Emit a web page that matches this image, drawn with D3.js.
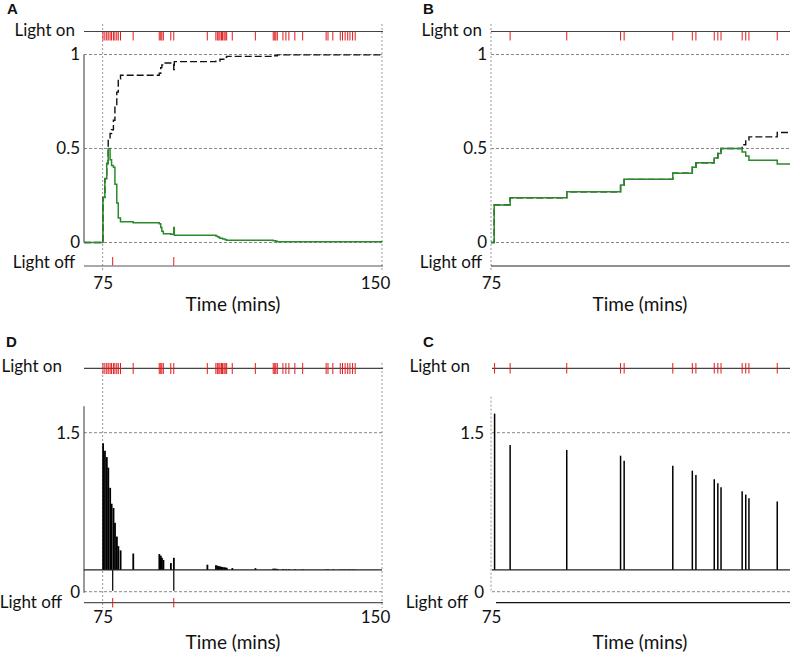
<!DOCTYPE html>
<html><head><meta charset="utf-8">
<script src="https://cdn.jsdelivr.net/npm/d3@7"></script>
<style>
body{margin:0;background:#fff}
text{font-family:Lato,"Open Sans",sans-serif;fill:#111}
.letter{font-family:"Liberation Sans",Arial,sans-serif;font-weight:bold;font-size:15px}
</style>
</head><body>
<svg id="c" width="797" height="661"></svg>
<script>
// ---------------- DATA ----------------
// light-on event times (mins), panels A and D
const lightOnAD = [75.1,75.6,76.1,76.5,77.0,77.4,77.9,78.3,78.8,79.2,79.8,83.2,
  90.2,90.6,90.9,91.3,93.3,94.1,103.1,105.4,105.8,106.2,106.5,106.9,107.2,107.6,107.9,108.3,
  109.8,116.0,120.8,121.2,121.5,121.9,123.4,124.2,125.0,126.6,128.7,
  135.0,135.5,136.8,138.8,139.4,140.1,140.8,141.4,142.1,142.8];
// light-off event times, panels A and D
const lightOffAD = [77.7, 94.1];
// panel A: green line (time, value)
const greenA_t = [70,75.1,75.6,76.1,76.5,77.0,77.4,77.9,78.3,78.8,79.2,79.8,83.2,90.2,90.6,90.9,91.3,93.3,94.1,94.25,105.4,105.8,106.2,106.5,107.2,107.9,108.3,120.8,121.5,121.9,150];
const greenA_v = [0,0.24,0.34,0.42,0.50,0.44,0.41,0.40,0.31,0.21,0.13,0.11,0.105,0.10,0.08,0.06,0.047,0.044,0.08,0.038,0.035,0.03,0.026,0.022,0.018,0.014,0.012,0.009,0.006,0.004,0.003];
// panel A: black dashed cumulative line
const cumA_t = [70,75.1,75.6,76.1,76.5,77.0,77.4,77.9,78.3,78.8,79.2,79.8,90.2,90.6,90.9,91.3,94.1,94.25,105.4,106.5,107.9,108.3,120.8,121.9,150];
const cumA_v = [0,0.24,0.34,0.42,0.55,0.58,0.60,0.65,0.72,0.80,0.87,0.89,0.90,0.93,0.945,0.955,0.92,0.962,0.965,0.975,0.985,0.99,0.993,0.998,1.0];
// panels B and C: light-on event times
const lightOnC = [75.9,79.8,94.0,107.5,108.4,120.6,125.5,126.4,131.0,131.9,132.7,138.0,138.9,139.7,146.8];
const lightOnB = [79.8,94.0,107.5,108.4,120.6,125.5,126.4,131.0,131.9,132.7,138.0,138.9,139.7,146.8];
// panel B: green and black dashed lines
const greenB_t = [75,75.8,79.8,94.0,107.5,108.4,120.6,125.5,126.4,131.0,131.9,132.7,138.0,138.9,139.7,146.8,150];
const greenB_v = [0,0.20,0.238,0.27,0.306,0.336,0.368,0.40,0.424,0.45,0.474,0.50,0.482,0.46,0.438,0.417,0.417];
const cumB_t = [75,75.8,79.8,94.0,107.5,108.4,120.6,125.5,126.4,131.0,131.9,132.7,138.0,138.9,139.7,146.8,150];
const cumB_v = [0,0.20,0.238,0.27,0.306,0.336,0.368,0.40,0.424,0.45,0.474,0.50,0.52,0.545,0.562,0.585,0.585];
// panel D: spike tops at each light-on event
const spikeD_v = [1.40,1.33,1.27,1.17,0.98,0.83,0.79,0.65,0.52,0.43,0.39,0.36,
  0.355,0.34,0.32,0.30,0.27,0.32,0.255,0.25,0.245,0.24,0.238,0.235,0.232,0.23,0.228,0.226,
  0.223,0.222,0.218,0.217,0.216,0.215,0.213,0.212,0.212,0.212,0.211,
  0.21,0.21,0.21,0.209,0.209,0.209,0.209,0.209,0.209,0.209];
const baselineD = 0.205;
// panel C: spike tops
const spikeC_v = [1.68,1.385,1.337,1.283,1.236,1.189,1.142,1.10,1.061,1.023,0.986,0.948,0.916,0.882,0.85];
const baselineC = 0.205;
// tick labels
const probTicks = [0,0.5,1];
const probLabels = ["0","0.5","1"];
const ampTicks = [0,1.5];
const ampLabels = ["0","1.5"];
const xLabelsAD = [75,150];
const xLabelsBC = [75];

// ---------------- DRAW ----------------
const svg = d3.select("#c");
const GREEN = "#2b8a2b", RED = "#e41a1c";

function hline(x0,x1,y,color,w,dash){
  const l = svg.append("line").attr("x1",x0).attr("x2",x1).attr("y1",y).attr("y2",y)
    .attr("stroke",color).attr("stroke-width",w);
  if(dash) l.attr("stroke-dasharray",dash);
}
function vline(x,y0,y1,color,w,dash){
  const l = svg.append("line").attr("x1",x).attr("x2",x).attr("y1",y0).attr("y2",y1)
    .attr("stroke",color).attr("stroke-width",w);
  if(dash) l.attr("stroke-dasharray",dash);
}
function txt(x,y,s,anchor,size,cls){
  const t = svg.append("text").attr("x",x).attr("y",y).attr("text-anchor",anchor||"start").text(s);
  if(size) t.attr("font-size",size);
  if(cls) t.attr("class",cls);
  return t;
}
function eventTicks(x,times,y0,y1){
  svg.append("g").selectAll("line").data(times).join("line")
    .attr("x1",d=>x(d)).attr("x2",d=>x(d)).attr("y1",y0).attr("y2",y1)
    .attr("stroke",RED).attr("stroke-width",1);
}
function yAxisLabels(y,ticks,labels,xr){
  const g = svg.append("g").attr("transform",`translate(${xr},0)`)
    .call(d3.axisLeft(y).tickValues(ticks).tickSize(0).tickPadding(0)
      .tickFormat((d,i)=>labels[i]));
  g.select(".domain").remove();
  g.selectAll("text").attr("font-size",17).attr("font-family","Lato,sans-serif").attr("fill","#111");
}
function xAxisLabels(x,ticks,yPos,shift){
  const g = svg.append("g").attr("transform",`translate(0,${yPos})`)
    .call(d3.axisBottom(x).tickValues(ticks).tickSize(0).tickPadding(0).tickFormat(d3.format("d")));
  g.select(".domain").remove();
  g.selectAll("text").attr("font-size",17).attr("font-family","Lato,sans-serif").attr("fill","#111")
    .attr("dx",d=>d===150?shift:0);
}
function stepLine(x,y,ts,vs,color,w,dash){
  const pts = ts.map((t,i)=>[t,vs[i]]);
  const p = svg.append("path").datum(pts)
    .attr("d",d3.line().x(d=>x(d[0])).y(d=>y(d[1])).curve(d3.curveStepAfter))
    .attr("fill","none").attr("stroke",color).attr("stroke-width",w);
  if(dash) p.attr("stroke-dasharray",dash);
}

// ===== Panel A =====
{
  const x = d3.scaleLinear().domain([70,150]).range([84,382]);
  const y = d3.scaleLinear().domain([0,1]).range([242.5,54.5]);
  txt(7,14,"A","start",null,"letter");
  probTicks.forEach(v=>hline(84,382,y(v),"#888",1,"3,2"));
  vline(x(75),24,272,"#999",1,"2,2");
  vline(x(150),24,272,"#999",1,"2,2");
  vline(84,y(1),y(0),"#555",1.2);
  hline(84,383,31.5,"#444",1.2);
  eventTicks(x,lightOnAD,32,40.5);
  hline(84,383,266,"#555",1.2);
  eventTicks(x,lightOffAD,257,265.5);
  txt(75,36,"Light on","end",17);
  txt(75,268,"Light off","end",17);
  stepLine(x,y,cumA_t,cumA_v,"#111",1.4,"7,3");
  stepLine(x,y,greenA_t,greenA_v,GREEN,1.5);
  yAxisLabels(y,probTicks,probLabels,80);
  xAxisLabels(x,xLabelsAD,277,-7);
  txt(233,311,"Time (mins)","middle",19);
}

// ===== Panel B =====
{
  const x = d3.scaleLinear().domain([75,150]).range([491,790]);
  const y = d3.scaleLinear().domain([0,1]).range([242.5,54.5]);
  txt(423,14,"B","start",null,"letter");
  probTicks.forEach(v=>hline(491,790,y(v),"#888",1,"3,2"));
  vline(491,24,272,"#999",1,"2,2");
  hline(491,790,31.5,"#444",1.2);
  eventTicks(x,lightOnB,32,40.5);
  hline(491,790,266,"#222",1.2);
  txt(482,36,"Light on","end",17);
  txt(482,268,"Light off","end",17);
  stepLine(x,y,cumB_t,cumB_v,"#111",1.4,"7,3");
  stepLine(x,y,greenB_t,greenB_v,GREEN,1.5);
  yAxisLabels(y,probTicks,probLabels,487);
  xAxisLabels(x,xLabelsBC,277,0);
  txt(640,311,"Time (mins)","middle",19);
}

// ===== Panel D =====
{
  const x = d3.scaleLinear().domain([70,150]).range([84,382]);
  const y = d3.scaleLinear().domain([0,1.5]).range([591.7,432.7]);
  txt(6,347,"D","start",null,"letter");
  ampTicks.forEach(v=>hline(84,382,y(v),"#888",1,"3,2"));
  vline(x(75),363,608,"#999",1,"2,2");
  vline(x(150),363,608,"#999",1,"2,2");
  vline(84,y(1.75),y(-0.01),"#555",1.2);
  hline(84,383,368.3,"#444",1.2);
  eventTicks(x,lightOnAD,363,374);
  hline(84,383,602.7,"#555",1.2);
  eventTicks(x,lightOffAD,598,607.5);
  txt(62,372,"Light on","end",17);
  txt(62,608,"Light off","end",17);
  svg.append("g").selectAll("rect").data(lightOnAD.map((t,i)=>[t,spikeD_v[i]])).join("rect")
    .attr("x",d=>x(d[0])-0.8).attr("width",1.8)
    .attr("y",d=>y(d[1])).attr("height",d=>y(baselineD)-y(d[1]))
    .attr("fill","#000");
  svg.append("g").selectAll("line").data(lightOffAD).join("line")
    .attr("x1",d=>x(d)).attr("x2",d=>x(d)).attr("y1",y(baselineD)).attr("y2",y(0.01))
    .attr("stroke","#111").attr("stroke-width",1.3);
  hline(84,382,y(baselineD),"#222",1.2);
  yAxisLabels(y,ampTicks,ampLabels,80);
  xAxisLabels(x,xLabelsAD,611,-7);
  txt(233,649,"Time (mins)","middle",19);
}

// ===== Panel C =====
{
  const x = d3.scaleLinear().domain([75,150]).range([491,790]);
  const y = d3.scaleLinear().domain([0,1.5]).range([591.7,432.7]);
  txt(423,347,"C","start",null,"letter");
  ampTicks.forEach(v=>hline(492,790,y(v),"#888",1,"3,2"));
  vline(491,y(1.84),y(-0.01),"#999",1,"2,2");
  hline(492,790,368.3,"#444",1.2);
  eventTicks(x,lightOnC,363,373.5);
  hline(496,790,602.7,"#111",1.2);
  txt(470,372,"Light on","end",17);
  txt(468,608,"Light off","end",17);
  svg.append("g").selectAll("line").data(lightOnC.map((t,i)=>[t,spikeC_v[i]])).join("line")
    .attr("x1",d=>x(d[0])).attr("x2",d=>x(d[0]))
    .attr("y1",d=>y(d[1])).attr("y2",y(baselineC))
    .attr("stroke","#000").attr("stroke-width",1.5);
  hline(492,790,y(baselineC),"#222",1.2);
  yAxisLabels(y,ampTicks,ampLabels,484);
  xAxisLabels(x,xLabelsBC,611,0);
  txt(640,649,"Time (mins)","middle",19);
}
</script>
</body></html>
